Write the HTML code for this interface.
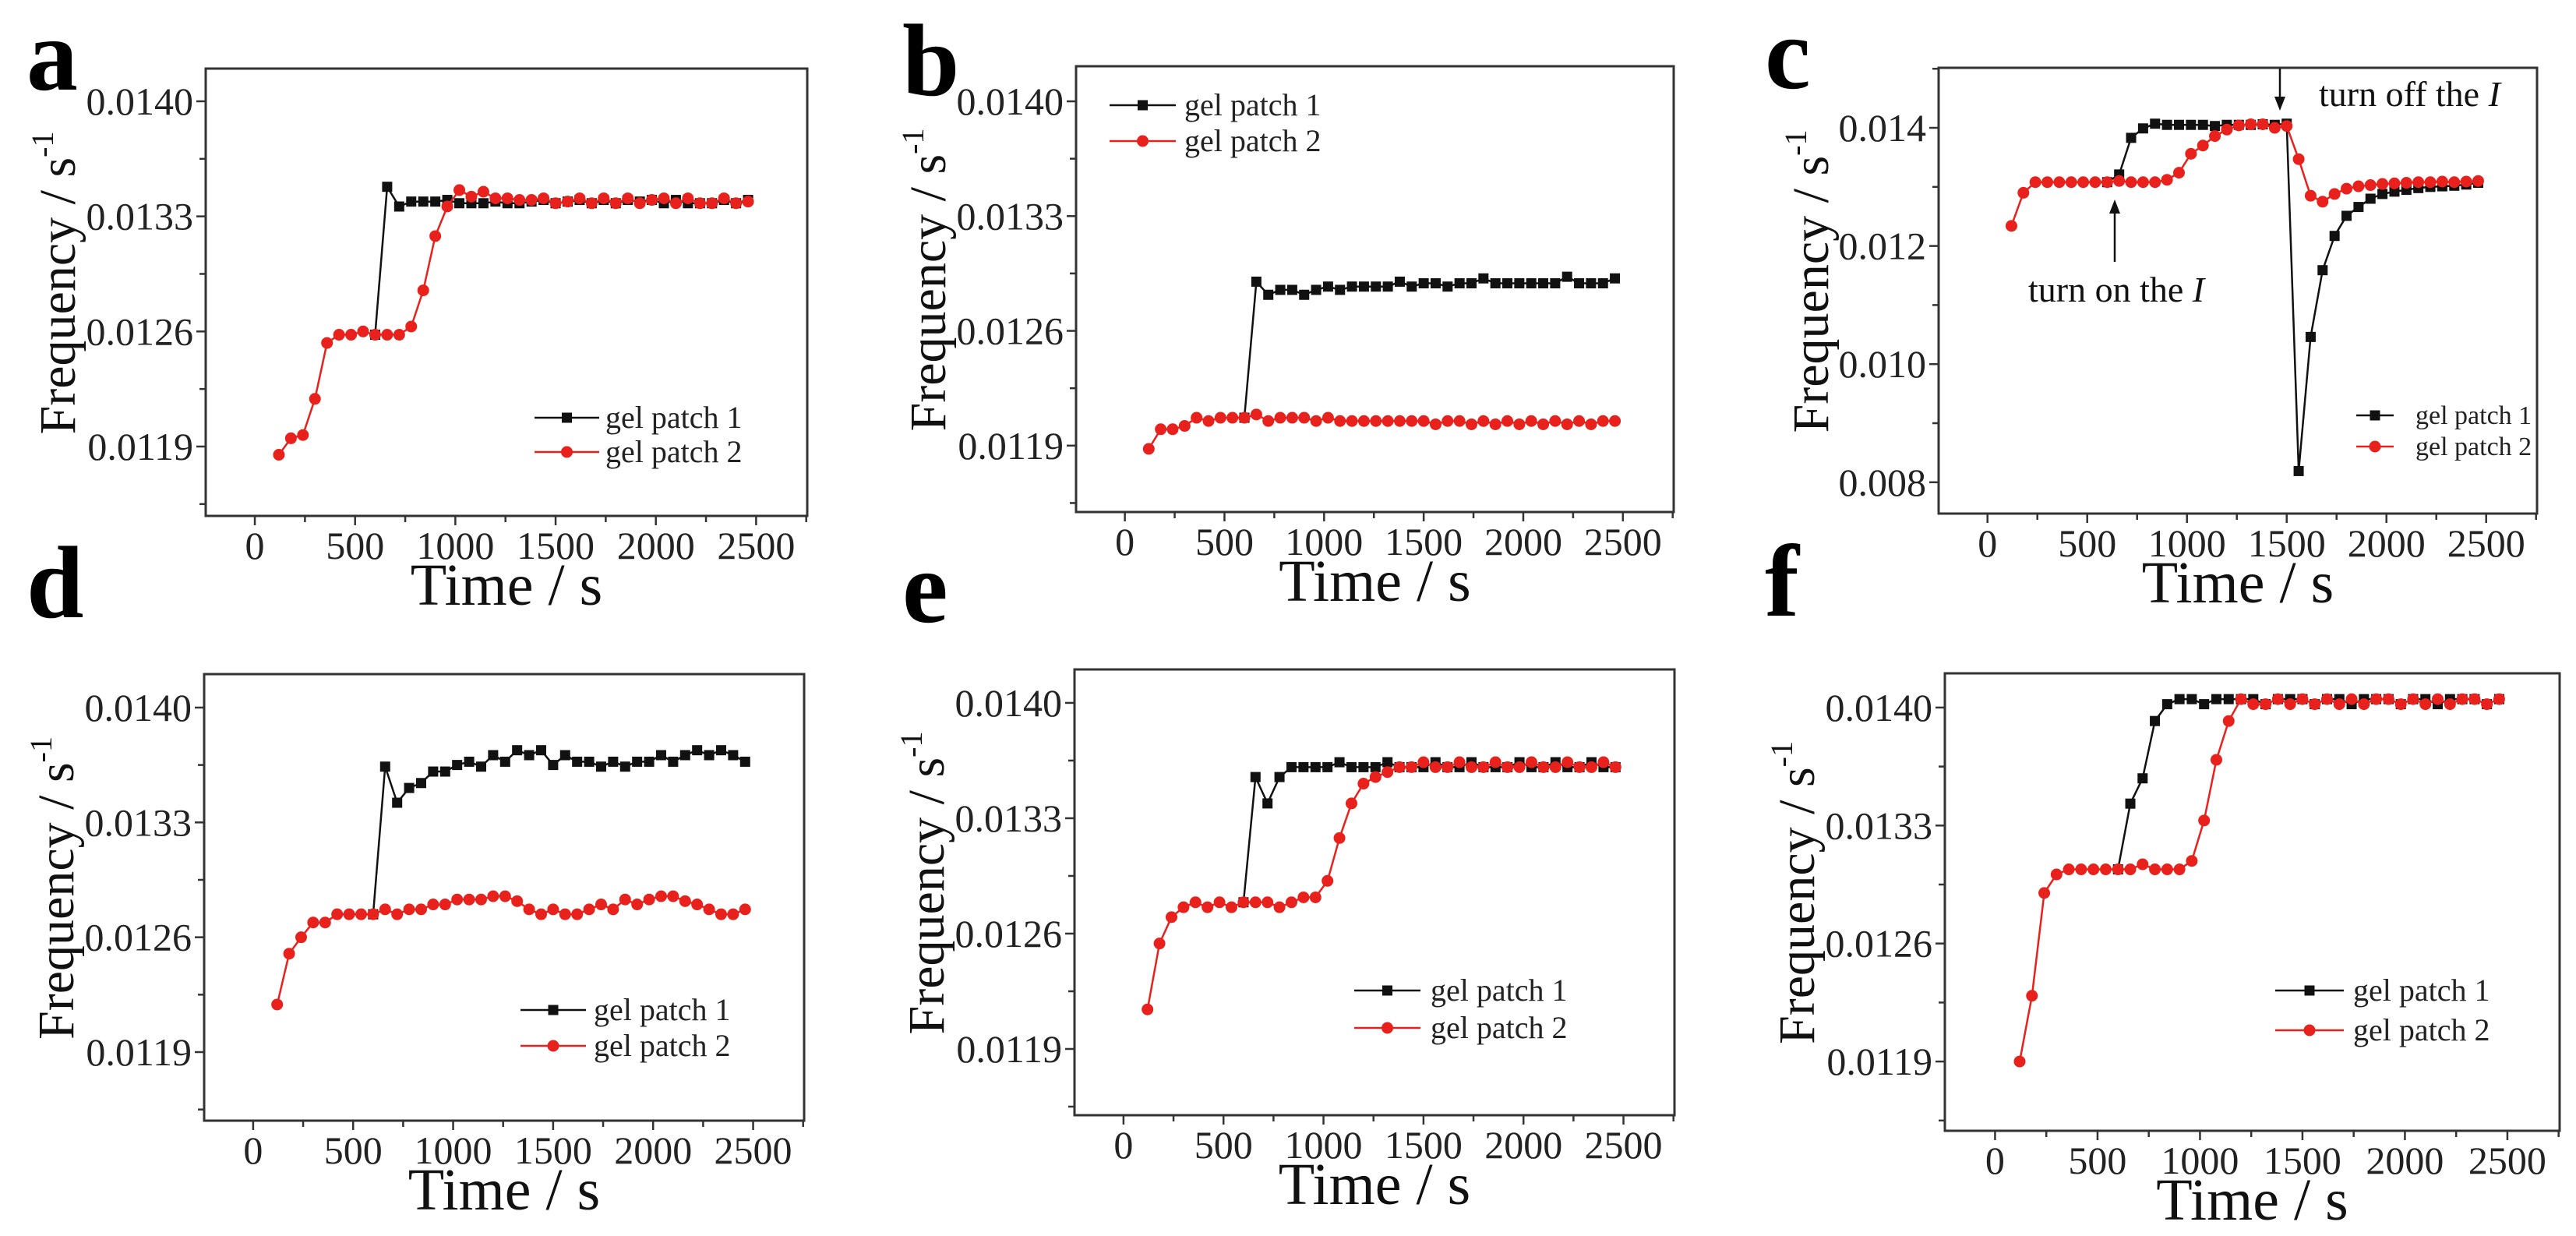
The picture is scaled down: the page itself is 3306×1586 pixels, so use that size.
<!DOCTYPE html>
<html><head><meta charset="utf-8">
<style>
html,body{margin:0;padding:0;background:#fff;}
svg{display:block;font-family:"Liberation Serif",serif;}
</style></head>
<body>
<svg id="fig" width="3306" height="1586" viewBox="0 0 3306 1586" xmlns="http://www.w3.org/2000/svg">
<rect width="3306" height="1586" fill="#fff"/>
</svg>
<script>
const times = [120,180,240,300,360,420,480,540,600,660,720,780,840,900,960,1020,1080,1140,1200,1260,1320,1380,1440,1500,1560,1620,1680,1740,1800,1860,1920,1980,2040,2100,2160,2220,2280,2340,2400,2460];
const xTickValues = [0,500,1000,1500,2000,2500];
const yTicksStd = [0.0119,0.0126,0.0133,0.0140];
const yTickLabelsStd = ["0.0119","0.0126","0.0133","0.0140"];
const yTicksC = [0.008,0.010,0.012,0.014];
const yTickLabelsC = ["0.008","0.010","0.012","0.014"];
const seriesNames = ["gel patch 1","gel patch 2"];
const N = null;
const aBlack = [N,N,N,N,N,N,N,N,.01258,.01348,
 .01336,.01339,.01339,.01339,.01340,.01338,.01338,.01338,.01339,.01338,
 .01338,.01339,.01340,.01338,.01339,.01340,.01338,.01340,.01338,.01340,
 .01339,.01340,.01338,.01340,.01338,.01338,.01338,.01340,.01338,.01340];
const aRed = [.01185,.01195,.01197,.01219,.01253,.01258,.01258,.01260,.01258,.01258,
 .01258,.01263,.01285,.01318,.01336,.01346,.01342,.01345,.01341,.01341,
 .01340,.01340,.01341,.01338,.01339,.01341,.01338,.01341,.01338,.01341,
 .01338,.01340,.01341,.01338,.01341,.01338,.01338,.01341,.01338,.01339];
const bBlack = [N,N,N,N,N,N,N,N,.01207,.01290,
 .01282,.01285,.01285,.01282,.01285,.01287,.01285,.01287,.01287,.01287,
 .01287,.01290,.01287,.01289,.01289,.01287,.01289,.01289,.01292,.01289,
 .01289,.01289,.01289,.01289,.01289,.01293,.01289,.01289,.01289,.01292];
const bRed = [.01188,.01200,.01200,.01202,.01207,.01205,.01207,.01207,.01207,.01209,
 .01205,.01207,.01207,.01207,.01205,.01207,.01205,.01205,.01205,.01205,
 .01205,.01205,.01205,.01205,.01203,.01205,.01205,.01203,.01205,.01203,
 .01205,.01203,.01205,.01203,.01205,.01203,.01205,.01203,.01205,.01205];
const cBlack = [N,N,N,N,N,N,N,N,.01308,.01321,
 .01383,.01399,.01407,.01405,.01405,.01405,.01405,.01403,.01405,.01405,
 .01405,.01406,.01405,.01407,.00819,.01046,.01159,.01217,.01251,.01266,
 .01280,.01288,.01292,.01295,.01298,.01300,.01301,.01302,.01304,.01307];
const cRed = [.01234,.01290,.01308,.01308,.01308,.01308,.01308,.01308,.01308,.01310,
 .01308,.01308,.01308,.01312,.01324,.01356,.01370,.01386,.01397,.01404,
 .01406,.01406,.01400,.01403,.01347,.01285,.01275,.01288,.01297,.01301,
 .01303,.01305,.01306,.01307,.01308,.01308,.01309,.01308,.01309,.01310];
const dBlack = [N,N,N,N,N,N,N,N,.01274,.01364,
 .01342,.01351,.01354,.01361,.01361,.01365,.01367,.01364,.01371,.01367,
 .01374,.01371,.01374,.01365,.01371,.01367,.01367,.01364,.01367,.01364,
 .01367,.01367,.01371,.01367,.01371,.01374,.01371,.01374,.01371,.01367];
const dRed = [.01219,.01250,.01260,.01269,.01269,.01274,.01274,.01274,.01274,.01277,
 .01274,.01277,.01277,.01280,.01280,.01283,.01283,.01283,.01285,.01285,
 .01282,.01277,.01274,.01277,.01274,.01274,.01277,.01280,.01277,.01283,
 .01280,.01283,.01285,.01285,.01282,.01280,.01277,.01274,.01274,.01277];
const eBlack = [N,N,N,N,N,N,N,N,.01279,.01355,
 .01339,.01355,.01361,.01361,.01361,.01361,.01364,.01361,.01361,.01361,
 .01364,.01361,.01361,.01361,.01364,.01361,.01361,.01364,.01361,.01361,
 .01361,.01364,.01361,.01361,.01364,.01361,.01361,.01364,.01361,.01361];
const eRed = [.01214,.01254,.01270,.01276,.01279,.01276,.01279,.01276,.01279,.01279,
 .01279,.01276,.01279,.01282,.01282,.01292,.01318,.01339,.01351,.01355,
 .01358,.01361,.01361,.01364,.01361,.01361,.01364,.01361,.01361,.01364,
 .01361,.01361,.01364,.01361,.01361,.01364,.01361,.01361,.01364,.01361];
const fBlack = [N,N,N,N,N,N,N,N,.01304,.01343,
 .01358,.01392,.01402,.01405,.01405,.01402,.01405,.01405,.01405,.01405,
 .01402,.01405,.01405,.01405,.01402,.01405,.01405,.01402,.01405,.01405,
 .01405,.01402,.01405,.01405,.01402,.01405,.01405,.01405,.01402,.01405];
const fRed = [.01190,.01229,.01290,.01301,.01304,.01304,.01304,.01304,.01304,.01304,
 .01307,.01304,.01304,.01304,.01309,.01333,.01369,.01392,.01405,.01402,
 .01402,.01405,.01402,.01405,.01402,.01405,.01402,.01405,.01402,.01405,
 .01405,.01402,.01405,.01402,.01405,.01402,.01405,.01405,.01402,.01405];

const NS = "http://www.w3.org/2000/svg";
const svg = document.getElementById('fig');
function mk(tag, attrs, parent){const e=document.createElementNS(NS,tag);for(const k in attrs)e.setAttribute(k,attrs[k]);(parent||svg).appendChild(e);return e;}

const panels = [
 {id:'a',L:264,T:88,R:1036,B:662,y0:0.011478,y1:0.014199,yt:yTicksStd,yl:yTickLabelsStd,minor:0.00035,black:aBlack,red:aRed,
  leg:{x1:686,x2:769,tx:777,y:536,dy:44,fs:40},ytx:96,letter:{x:34,y:115}},
 {id:'b',L:1381,T:85,R:2148,B:657,y0:0.011495,y1:0.014214,yt:yTicksStd,yl:yTickLabelsStd,minor:0.00035,black:bBlack,red:bRed,
  leg:{x1:1424,x2:1509,tx:1520,y:135,dy:46,fs:40},ytx:1213,letter:{x:1158,y:122}},
 {id:'c',L:2488,T:87,R:3256,B:659,y0:0.00747,y1:0.015016,yt:yTicksC,yl:yTickLabelsC,minor:0.001,black:cBlack,red:cRed,
  leg:{x1:3024,x2:3072,tx:3100,y:533,dy:40,fs:34},ytx:2346,letter:{x:2265,y:113}},
 {id:'d',L:262,T:865,R:1032,B:1438,y0:0.011482,y1:0.014204,yt:yTicksStd,yl:yTickLabelsStd,minor:0.00035,black:dBlack,red:dRed,
  leg:{x1:668,x2:752,tx:762,y:1296,dy:46,fs:40},ytx:94,letter:{x:34,y:792}},
 {id:'e',L:1379,T:859,R:2149,B:1431,y0:0.011498,y1:0.014203,yt:yTicksStd,yl:yTickLabelsStd,minor:0.00035,black:eBlack,red:eRed,
  leg:{x1:1738,x2:1823,tx:1836,y:1271,dy:48,fs:40},ytx:1211,letter:{x:1158,y:798}},
 {id:'f',L:2496,T:864,R:3285,B:1451,y0:0.011489,y1:0.014203,yt:yTicksStd,yl:yTickLabelsStd,minor:0.00035,black:fBlack,red:fRed,
  leg:{x1:2920,x2:3008,tx:3020,y:1271,dy:51,fs:40},ytx:2328,letter:{x:2265,y:790}}
];
const X0=-245, X1=2755;
const RED='#e8211c';

panels.forEach(p=>{
  const g = mk('g',{});
  
  
  const xs = v => p.L + (v-X0)/(X1-X0)*(p.R-p.L);
  const ys = v => p.B - (v-p.y0)/(p.y1-p.y0)*(p.B-p.T);

  const lt = mk('text',{x:p.letter.x,y:p.letter.y,'font-size':132,'font-weight':'bold',fill:'#000'},g);
  lt.textContent=p.id;
  
  

  const xa = mk('g',{},g);
  
  
  for(let v=-250; v<=2750; v+=250){
    if(v<X0-1) continue;
    const major = v%500===0;
    const x=xs(v);
    mk('line',{x1:x,x2:x,y1:p.B,y2:p.B+(major?12:8),stroke:'#333','stroke-width':2.5},xa);
  }
  xTickValues.forEach(v=>{
    const t=mk('text',{x:xs(v),y:p.B+55,'font-size':50,'text-anchor':'middle',fill:'#222'},xa);
    t.textContent=String(v);
    
    
  });
  const xt=mk('text',{x:(p.L+p.R)/2,y:p.B+114,'font-size':76,'text-anchor':'middle',fill:'#111'},xa);
  xt.textContent='Time / s';
  
  

  const ya = mk('g',{},g);
  
  
  const step = p.yt[1]-p.yt[0];
  for(let v=p.yt[0]-2*step; v<=p.y1+1e-9; v+=p.minor){
    if(v<p.y0-1e-9) continue;
    const k=Math.round((v-p.yt[0])/step*2);
    const major = k%2===0;
    const y=ys(v);
    mk('line',{x1:p.L,x2:p.L-(major?12:8),y1:y,y2:y,stroke:'#333','stroke-width':2.5},ya);
  }
  p.yt.forEach((v,i)=>{
    const t=mk('text',{x:p.L-16,y:ys(v)+17,'font-size':50,'text-anchor':'end',fill:'#222'},ya);
    t.textContent=p.yl[i];
    
    
  });
  const cy=(p.T+p.B)/2-12;
  const yt=mk('text',{x:0,y:0,'font-size':66,'text-anchor':'middle',fill:'#111',transform:`translate(${p.ytx},${cy}) rotate(-90)`},ya);
  
  
  const ts1=mk('tspan',{},yt); ts1.textContent='Frequency / s';
  const ts2=mk('tspan',{dy:-28,'font-size':40},yt); ts2.textContent='-1';

  const fr=mk('rect',{x:p.L,y:p.T,width:p.R-p.L,height:p.B-p.T,fill:'none',stroke:'#333','stroke-width':3},g);
  
  

  [[p.black,'#111','sq',0],[p.red,RED,'ci',1]].forEach(([arr,col,mkType,si])=>{
    const sg=mk('g',{},g);
    
    
    let d='';
    arr.forEach((v,i)=>{ if(v===null) return; d+=(d?'L':'M')+xs(times[i]).toFixed(1)+','+ys(v).toFixed(1); });
    mk('path',{d:d,fill:'none',stroke:col,'stroke-width':2.5},sg);
    arr.forEach((v,i)=>{
      if(v===null) return;
      const x=xs(times[i]), y=ys(v);
      let m;
      if(mkType==='sq') m=mk('rect',{x:x-6.5,y:y-6.5,width:13,height:13,fill:col},sg);
      else m=mk('circle',{cx:x,cy:y,r:7.5,fill:col},sg);
      
      
    });
  });

  const lg=mk('g',{},g);
  
  
  [['#111','sq'],[RED,'ci']].forEach(([col,t],i)=>{
    const y=p.leg.y+i*p.leg.dy;
    const eg=mk('g',{},lg);
    
    
    mk('line',{x1:p.leg.x1,x2:p.leg.x2,y1:y,y2:y,stroke:col,'stroke-width':2.5},eg);
    const mx=(p.leg.x1+p.leg.x2)/2;
    if(t==='sq') mk('rect',{x:mx-6.5,y:y-6.5,width:13,height:13,fill:col},eg);
    else mk('circle',{cx:mx,cy:y,r:7.5,fill:col},eg);
    const tx=mk('text',{x:p.leg.tx,y:y+p.leg.fs*0.33,'font-size':p.leg.fs,fill:'#222'},eg);
    tx.textContent=seriesNames[i];
  });

  if(p.id==='c'){
    const an=mk('g',{},g);
    
    
    mk('line',{x1:2926,x2:2926,y1:88,y2:130,stroke:'#111','stroke-width':2.5},an);
    mk('path',{d:'M2919,124 L2926,142 L2933,124 Z',fill:'#111'},an);
    const t1=mk('text',{x:2976,y:136,'font-size':46,fill:'#111'},an);
    
    
    const a1=mk('tspan',{},t1); a1.textContent='turn off the ';
    const a2=mk('tspan',{'font-style':'italic'},t1); a2.textContent='I';
    mk('line',{x1:2714,x2:2714,y1:336,y2:268,stroke:'#111','stroke-width':2.5},an);
    mk('path',{d:'M2707,274 L2714,256 L2721,274 Z',fill:'#111'},an);
    const t2=mk('text',{x:2603,y:387,'font-size':46,fill:'#111'},an);
    
    
    const b1=mk('tspan',{},t2); b1.textContent='turn on the ';
    const b2=mk('tspan',{'font-style':'italic'},t2); b2.textContent='I';
  }
});
</script>
</body></html>
